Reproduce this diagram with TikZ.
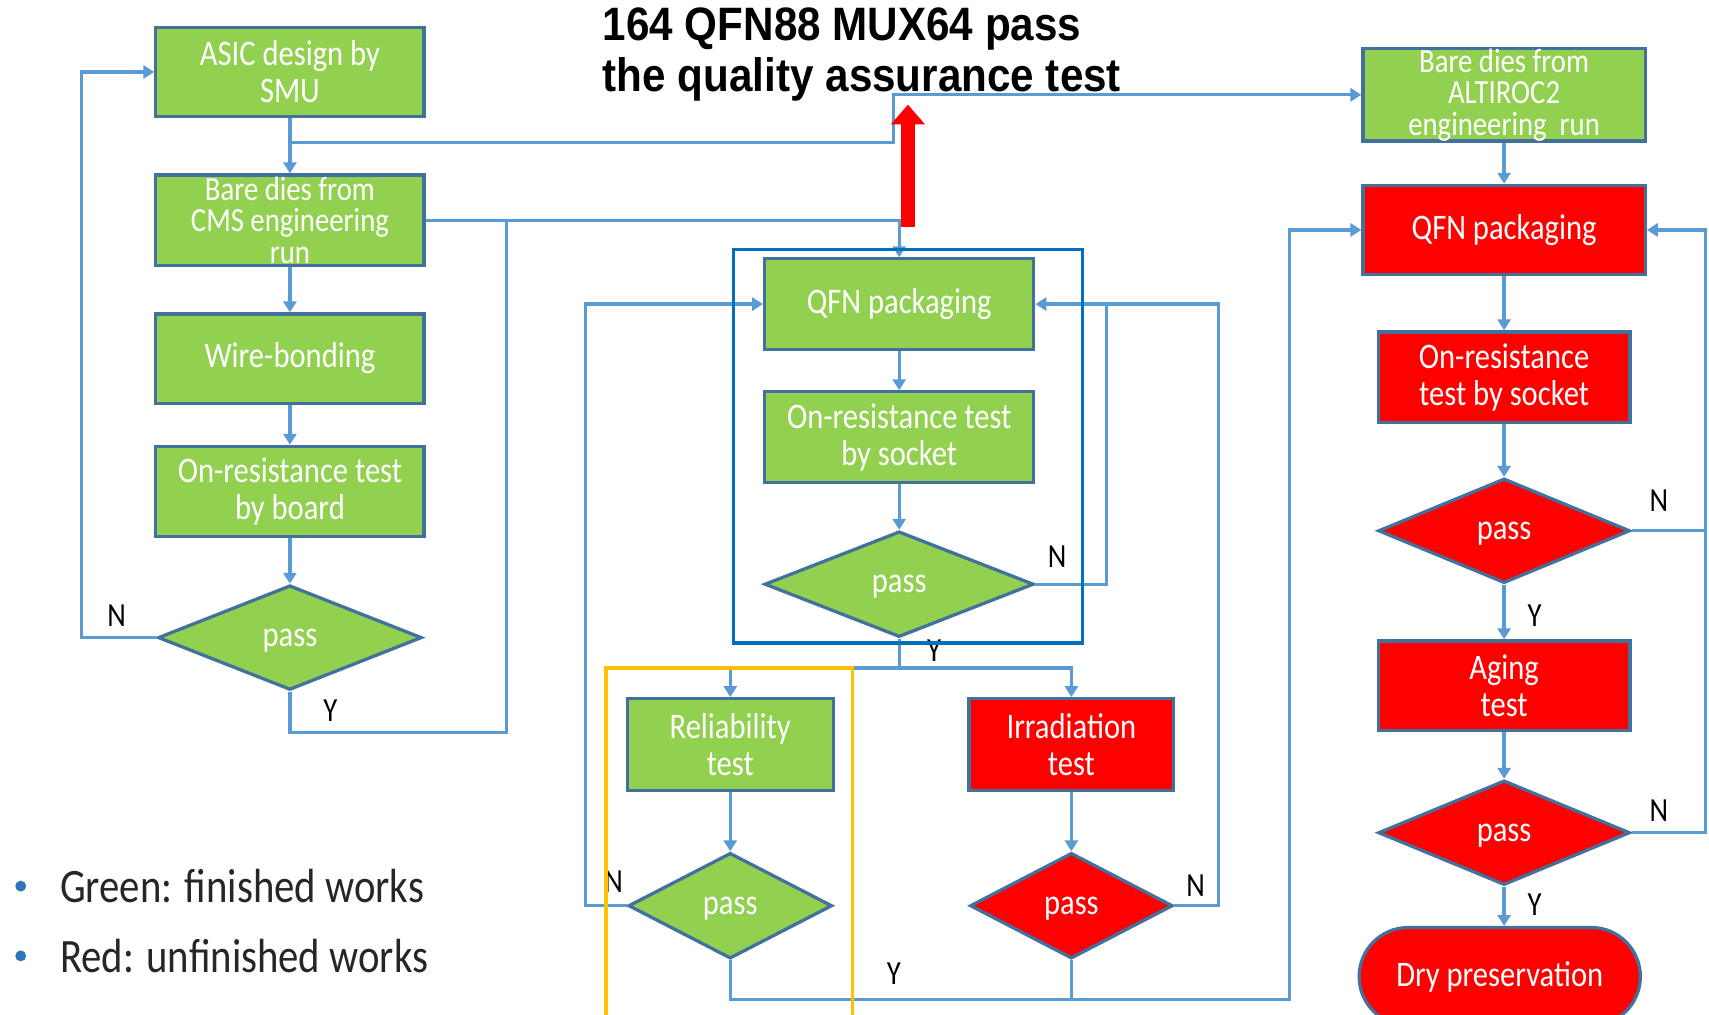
\documentclass[tikz,border=0pt]{standalone}
\usepackage{fontspec}
\setmainfont{Carlito}[FakeStretch=0.85]
\newfontfamily\titlefamily{Liberation Sans}[FakeStretch=0.9]
\usetikzlibrary{arrows.meta,shapes.geometric}

\definecolor{donegreen}{HTML}{92D050}
\definecolor{todored}{HTML}{FF0000}
\definecolor{boxline}{HTML}{41719C}
\definecolor{flowblue}{HTML}{5B9BD5}
\definecolor{frameblue}{HTML}{0070C0}
\definecolor{frameorange}{HTML}{FFC000}
\definecolor{bulletblue}{HTML}{2E75B6}

\newcommand{\boxfont}{\fontsize{33}{34}\selectfont}
\newcommand{\tightfont}{\fontsize{31}{29}\selectfont}
\newcommand{\ynfont}{\fontsize{31}{31}\selectfont}
\newcommand{\legfont}{\fontsize{44}{44}\selectfont}
\newcommand{\titlefont}{\titlefamily\bfseries\fontsize{43}{47}\selectfont}

\begin{document}
\begin{tikzpicture}[x=1pt, y=-1pt,
  box/.style={rectangle, draw=boxline, line width=3pt, align=center, text=white, font=\boxfont, inner sep=0pt},
  decision/.style={diamond, draw=boxline, line width=3pt, text=white, font=\boxfont, inner sep=0pt, text depth=0pt},
  done/.style={fill=donegreen},
  todo/.style={fill=todored},
  flow/.style={draw=flowblue, line width=3pt, -{Triangle[width=12pt,length=10pt]}},
  link/.style={draw=flowblue, line width=3pt},
  yn/.style={font=\ynfont, text=black, inner sep=0pt},
  bigarrow/.style={draw=todored, line width=13pt, -{Triangle[width=30pt,length=18pt]}}]

  \useasboundingbox (0,0) rectangle (1568,931);
  \clip (0,0) rectangle (1568,931);

  % title
  \node[anchor=north west, inner sep=0pt, align=left, font=\titlefont] (title) at (553,7)
    {164 QFN88 MUX64 pass\\the quality assurance test};

  % left column: CMS dies
  \node[box, done, minimum width=246pt, minimum height=82pt] (asic) at (266,66) {ASIC design by\\SMU};
  \node[box, done, minimum width=246pt, minimum height=83pt, font=\tightfont] (cms) at (266,202) {Bare dies from\\CMS engineering\\run};
  \node[box, done, minimum width=246pt, minimum height=82pt] (wire) at (266,329) {Wire-bonding};
  \node[box, done, minimum width=246pt, minimum height=83pt] (board) at (266,451) {On-resistance test\\by board};
  \node[decision, done, minimum width=242pt, minimum height=96pt] (pass1) at (266,585) {pass};

  % middle column: packaging and tests
  \node[box, done, minimum width=247pt, minimum height=83pt] (qfn) at (825,279) {QFN packaging};
  \node[box, done, minimum width=247pt, minimum height=83pt] (socket) at (825,401) {On-resistance test\\by socket};
  \node[decision, done, minimum width=247pt, minimum height=97pt] (pass2) at (825,536) {pass};
  \node[box, done, minimum width=189pt, minimum height=84pt] (rel) at (670,683) {Reliability\\test};
  \node[box, todo, minimum width=188pt, minimum height=84pt] (irr) at (983,683) {Irradiation\\test};
  \node[decision, done, minimum width=187pt, minimum height=97pt] (pass3) at (670,831) {pass};
  \node[decision, todo, minimum width=186pt, minimum height=97pt] (pass4) at (983,831) {pass};

  % right column: ALTIROC2 dies
  \node[box, done, minimum width=259pt, minimum height=83pt, font=\tightfont] (altiroc) at (1380,87) {Bare dies from\\ALTIROC2\\engineering~ run};
  \node[box, todo, minimum width=259pt, minimum height=82pt] (qfnB) at (1380,211) {QFN packaging};
  \node[box, todo, minimum width=231pt, minimum height=83pt] (socketB) at (1380,346) {On-resistance\\test by socket};
  \node[decision, todo, minimum width=231pt, minimum height=96pt] (pass5) at (1380,487) {pass};
  \node[box, todo, minimum width=231pt, minimum height=82pt] (aging) at (1380,629) {Aging\\test};
  \node[decision, todo, minimum width=231pt, minimum height=96pt] (pass6) at (1380,764) {pass};
  \node[box, todo, minimum width=258pt, minimum height=90pt, rounded corners=45pt] (dry) at (1376,896) {Dry preservation};

  % bends
  \coordinate (br1) at (266,131);
  \coordinate (up1) at (820,87);
  \coordinate (j1) at (465,672);
  \coordinate (j2) at (465,202);
  \coordinate (n1) at (75,585);
  \coordinate (ysplit) at (825,613);
  \coordinate (n2) at (1015,279);
  \coordinate (n3) at (1118,279);
  \coordinate (n4) at (537,279);
  \coordinate (j3) at (1183,917);
  \coordinate (j4) at (983,917);
  \coordinate (n5) at (1565,487);
  \coordinate (ra) at (833,208);
  \coordinate (rtip) at (833,96);

  % left column flow
  \draw[flow] (asic) -- (cms);
  \draw[flow] (br1) -| (up1) -- (altiroc.west);
  \draw[flow] (cms) -- (wire);
  \draw[flow] (wire) -- (board);
  \draw[flow] (board) -- (pass1);
  \draw[flow] (pass1.west) -- (n1) |- (asic.west);
  \draw[link] (pass1.south) |- (j1) -- (j2);
  \draw[flow] (cms.east) -| (qfn.north);

  % middle column flow
  \draw[flow] (qfn) -- (socket);
  \draw[flow] (socket) -- (pass2);
  \draw[link] (pass2.south) -- (ysplit);
  \draw[flow] (ysplit) -| (rel.north);
  \draw[flow] (ysplit) -| (irr.north);
  \draw[link] (pass2.east) -| (n2);
  \draw[flow] (rel) -- (pass3);
  \draw[flow] (irr) -- (pass4);
  \draw[flow] (pass4.east) -| (n3) -- (qfn.east);
  \draw[flow] (pass3.west) -| (n4) -- (qfn.west);
  \draw[flow] (pass3.south) |- (j3) |- (qfnB.west);
  \draw[link] (pass4.south) -- (j4);

  % right column flow
  \draw[flow] (altiroc) -- (qfnB);
  \draw[flow] (qfnB) -- (socketB);
  \draw[flow] (socketB) -- (pass5);
  \draw[flow] (pass5) -- (aging);
  \draw[flow] (aging) -- (pass6);
  \draw[flow] (pass6.south) -- (pass6.south |- dry.north);
  \draw[flow] (pass5.east) -- (n5) |- (qfnB.east);
  \draw[link] (pass6.east) -| (n5);

  % Y / N labels
  \node[yn] (lN1) at (107,565) {N};
  \node[yn] (lY1) at (303,652) {Y};
  \node[yn] (lN2) at (970,511) {N};
  \node[yn] (lY2) at (857,597) {Y};
  \node[yn] (lN3) at (563,809) {N};
  \node[yn] (lN4) at (1097,813) {N};
  \node[yn] (lY3) at (820,893) {Y};
  \node[yn] (lN5) at (1522,459) {N};
  \node[yn] (lY5) at (1408,565) {Y};
  \node[yn] (lN6) at (1522,744) {N};
  \node[yn] (lY6) at (1408,830) {Y};

  % highlight frames
  \draw[frameblue, line width=3pt] (673,229) rectangle (993,590);
  \draw[frameorange, line width=3pt] (556,613) rectangle (782,935);

  % QA result
  \draw[bigarrow] (ra) -- (rtip);

  % legend
  \fill[bulletblue] (19,813) circle (5pt);
  \fill[bulletblue] (19,877) circle (5pt);
  \node[anchor=west, inner sep=0pt, font=\legfont, text=black!85] (leg1) at (55,813) {Green: finished works};
  \node[anchor=west, inner sep=0pt, font=\legfont, text=black!85] (leg2) at (55,877) {Red: unfinished works};

\end{tikzpicture}
\end{document}
